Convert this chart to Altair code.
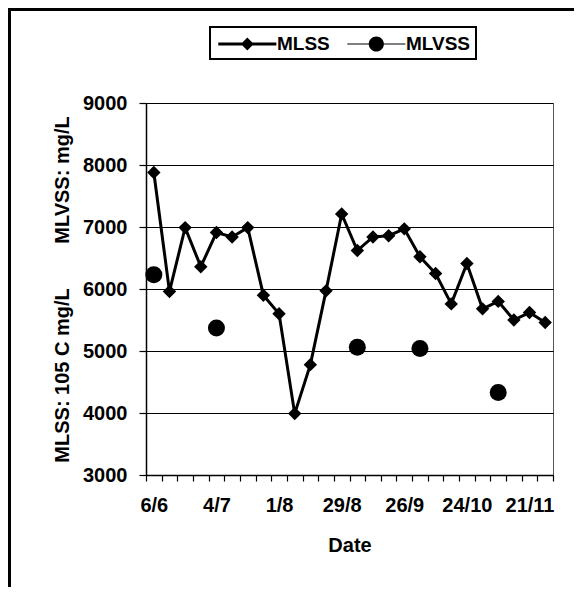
import json
import altair as alt
import pandas as pd

# ---- data ----
dates = ["6/6", "13/6", "20/6", "27/6", "4/7", "11/7", "18/7", "25/7", "1/8", "8/8",
         "15/8", "22/8", "29/8", "5/9", "12/9", "19/9", "26/9", "3/10", "10/10", "17/10",
         "24/10", "31/10", "7/11", "14/11", "21/11", "28/11"]
mlss = [7880, 5960, 6990, 6360, 6910, 6840, 6990, 5900, 5600, 3990,
        4780, 5970, 7210, 6620, 6840, 6860, 6970, 6520, 6250, 5760,
        6410, 5680, 5800, 5500, 5620, 5460]
mlvss_dates = ["6/6", "4/7", "5/9", "3/10", "7/11"]
mlvss = [6230, 5370, 5060, 5040, 4330]
series_names = ["MLSS", "MLVSS"]
y_ticks = [3000, 4000, 5000, 6000, 7000, 8000, 9000]

rows = [{"week": i, "value": v, "series": "MLSS"} for i, v in enumerate(mlss)]
rows += [{"week": dates.index(d), "value": v, "series": "MLVSS"} for d, v in zip(mlvss_dates, mlvss)]
df = pd.DataFrame(rows)

W, H = 407, 372
PL, PT, PR, PB = 138, 95, 21, 112
FONT = "Liberation Sans"
n = len(dates)

label_expr = (
    f"(round(datum.value + 0.5) % 4 == 0 && round(datum.value + 0.5) < {n}) "
    f"? {json.dumps(dates)}[round(datum.value + 0.5)] : ''"
)

x_enc = alt.X(
    "week:Q",
    scale=alt.Scale(domain=[-0.5, n - 0.5], nice=False, zero=False),
    axis=alt.Axis(
        values=[k - 0.5 for k in range(n + 1)],
        labelExpr=label_expr,
        labelOffset=W / n / 2,
        labelOverlap=False,
        labelFlush=False,
        tickSize=6,
        labelPadding=14,
        grid=False,
        title="Date",
        titlePadding=20,
    ),
)
y_enc = alt.Y(
    "value:Q",
    scale=alt.Scale(domain=[3000, 9000], nice=False, zero=False),
    axis=alt.Axis(
        values=y_ticks,
        format="d",
        tickSize=7,
        labelPadding=12,
        grid=True,
        title="MLSS: 105 C mg/L" + "\u00a0" * 8 + "MLVSS: mg/L",
        titlePadding=10,
    ),
)

base = alt.Chart(df).encode(x=x_enc, y=y_enc)

line = base.transform_filter(alt.datum.series == "MLSS").mark_line(color="black", strokeWidth=3)
diamonds = base.transform_filter(alt.datum.series == "MLSS").mark_point(
    shape="diamond", filled=True, color="black", size=180, opacity=1
)
dots = base.transform_filter(alt.datum.series == "MLVSS").mark_circle(
    color="black", size=290, opacity=1
)

# legend symbols: line with marker, drawn as filled paths (unit = sqrt(size)/2)
path_mlss = "M-0.75,-0.12H4.25V0.12H-0.75Z M1.75,-0.55L2.3,0L1.75,0.55L1.2,0Z"
path_mlvss = ("M-0.75,-0.05H4.25V0.05H-0.75Z "
              "M2.4,0A0.65,0.65 0 1,1 1.1,0A0.65,0.65 0 1,1 2.4,0Z")

legend_layer = base.mark_point(filled=True, opacity=0, color="black").encode(
    shape=alt.Shape(
        "series:N",
        scale=alt.Scale(domain=series_names, range=[path_mlss, path_mlvss]),
        legend=alt.Legend(
            title=None,
            orient="none",
            legendX=64,
            legendY=-76,
            direction="horizontal",
            symbolSize=540,
            symbolFillColor="black",
            symbolStrokeColor="black",
            symbolStrokeWidth=0,
            symbolOpacity=1,
            labelOffset=38,
            columnPadding=14,
            padding=5,
            strokeColor="black",
            labelFontSize=19,
            labelFontWeight="bold",
            labelFont=FONT,
            labelColor="black",
        ),
    )
)

frame = alt.Chart(alt.Data(values=[{}]))
top_border = frame.mark_rule(color="black", strokeWidth=3).encode(
    x=alt.value(-PL), x2=alt.value(W + PR), y=alt.value(1.5 - PT)
)
left_border = frame.mark_rule(color="black", strokeWidth=3).encode(
    x=alt.value(1.5 - PL), y=alt.value(-PT), y2=alt.value(H + PB)
)

chart = (
    alt.layer(line, diamonds, dots, legend_layer, top_border, left_border)
    .properties(
        width=W,
        height=H,
        autosize=alt.AutoSizeParams(type="none"),
        padding={"left": PL, "top": PT, "right": PR, "bottom": PB},
        background="white",
    )
    .configure_view(stroke="#555555", strokeWidth=1)
    .configure_axis(
        labelFont=FONT,
        labelFontSize=20,
        labelFontWeight="bold",
        labelColor="black",
        titleFont=FONT,
        titleFontSize=20,
        titleFontWeight="bold",
        titleColor="black",
        domainColor="black",
        domainWidth=1.5,
        tickColor="black",
        tickWidth=1.2,
        gridColor="black",
        gridWidth=1.2,
    )
    .configure_legend(strokeWidth=2)
)

chart.save("out.html", embed_options={"renderer": "svg", "actions": False})
